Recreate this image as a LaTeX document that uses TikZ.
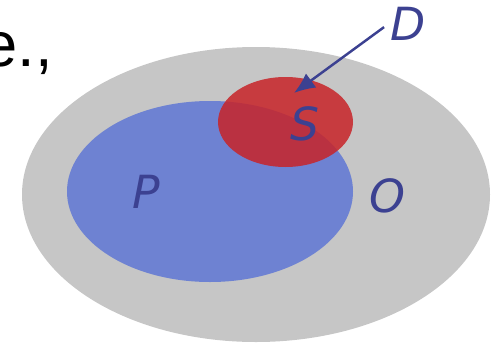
\documentclass[tikz,border=0pt]{standalone}
\usepackage{fontspec}
\setmainfont{DejaVu Sans}
\newfontfamily\slidefont{Liberation Sans}
\usepackage{tikz}
\usetikzlibrary{arrows.meta}

\definecolor{setgrey}{RGB}{198,198,198}
\definecolor{setblue}{RGB}{110,130,210}
\definecolor{setred}{RGB}{200,35,40}
\definecolor{labblue}{RGB}{60,65,145}

\tikzset{
  setlab/.style={text=labblue, inner sep=1pt, font=\fontsize{26}{30}\selectfont\itshape},
}

\begin{document}
\begin{tikzpicture}[x=0.02cm,y=-0.02cm]
\useasboundingbox (0,0) rectangle (497,345);
\clip (0,0) rectangle (497,345);
\fill[setgrey] (256,194.5) ellipse [x radius=234, y radius=147.5];
\fill[setblue] (210,191.5) ellipse [x radius=143, y radius=90.5];
\fill[setred, fill opacity=0.85] (285.5,122) ellipse [x radius=67.5, y radius=45];
\node[anchor=base west, inner sep=0pt, font=\slidefont\fontsize{36}{40}\selectfont] (eg) at (-18,66) {e.,};
\node[setlab] (P) at (146,192) {P};
\node[setlab] (S) at (305,124) {S};
\node[setlab] (O) at (387,196) {O};
\node[setlab] (D) at (408,24) {D};
\coordinate (tip) at (294,93);
\draw[labblue, line width=1.4pt, -{Latex[length=12pt,width=10pt]}, shorten <=3pt] (D.west) -- (tip);
\end{tikzpicture}
\end{document}
